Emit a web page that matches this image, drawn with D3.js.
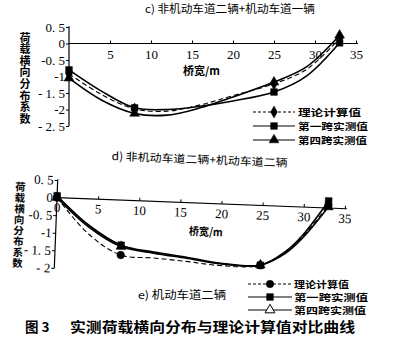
<!DOCTYPE html>
<html><head><meta charset="utf-8">
<script src="https://cdn.jsdelivr.net/npm/d3@7"></script>
<style>
html,body{margin:0;padding:0;background:#fff;}
svg{display:block;}
</style></head>
<body>
<script>
// ---------- DATA ----------
// Panel c
const cX = [0, 4, 8, 12, 16, 20, 25, 29, 33];
const cTheory = [-0.92, -1.55, -1.98, -2.05, -1.86, -1.58, -1.22, -0.78, 0.15];
const cSpan1  = [-0.80, -1.45, -1.95, -2.00, -1.90, -1.74, -1.47, -0.98, 0.02];
const cSpan4  = [-1.05, -1.72, -2.12, -2.17, -1.95, -1.62, -1.17, -0.70, 0.25];
// Panel d
const dX = [0, 4, 8, 12, 16, 20, 25, 28, 30, 33];
const dTheory = [0.00, -1.00, -1.56, -1.61, -1.67, -1.75, -1.70, -1.30, -0.84, 0.08];
const dSpan1  = [0.05, -0.75, -1.28, -1.44, -1.55, -1.68, -1.70, -1.28, -0.80, 0.20];
const dSpan4  = [0.00, -0.80, -1.32, -1.47, -1.58, -1.70, -1.69, -1.33, -0.88, 0.03];
// measured positions (where markers are drawn)
const markX = [0, 8, 25, 33];
// ticks
const cXTicks = [5, 10, 15, 20, 25, 30, 35];
const dXTicks = [0, 5, 10, 15, 20, 25, 30, 35];
const cYTicks = [0.5, 0, -0.5, -1, -1.5, -2, -2.5];
const cYLabels = ["0. 5", "0", "-0. 5", "-1", "- 1. 5", "-2", "- 2. 5"];
const dYTicks = [0.5, 0, -0.5, -1, -1.5, -2];
const dYLabels = ["0. 5", "0", "-0. 5", "-1", "- 1. 5", "- 2"];
// texts
const titleC = "c) 非机动车道二辆+机动车道一辆";
const titleD = "d) 非机动车道二辆+机动车道二辆";
const titleE = "e) 机动车道二辆";
const yTitle = "荷载横向分布系数";
const xTitle = "桥宽/m";
const legendNames = ["理论计算值", "第一跨实测值", "第四跨实测值"];
const caption = "图 3";
const captionText = "实测荷载横向分布与理论计算值对比曲线";

// ---------- DRAW ----------
const W = 400, H = 358;
const svg = d3.select("body").append("svg").attr("width", W).attr("height", H);
svg.append("rect").attr("width", W).attr("height", H).attr("fill", "#fff");

const CJK = "'Noto Sans CJK SC', sans-serif";
const NUM = "'Liberation Serif', 'DejaVu Serif', serif";

function marker(g, type, cx, cy, hollow) {
  const s = d3.symbol().size(type === d3.symbolDiamond ? 40 : type === d3.symbolTriangle ? 42 : 45).type(type);
  g.append("path").attr("d", s()).attr("transform", `translate(${cx},${cy})`)
    .attr("fill", hollow ? "#fff" : "#000").attr("stroke", "#000").attr("stroke-width", hollow ? 1 : 0.5);
}

function drawPanel(g, o) {
  const {x, y, xs, series, xTicks, yTicks, yLabels, xTickPad, yTop, yBottom} = o;
  const xa = g.append("g").attr("transform", `translate(0,${y(0)})`)
    .call(d3.axisBottom(x).tickValues(xTicks).tickSizeInner(-3).tickSizeOuter(0).tickPadding(xTickPad).tickFormat(d3.format("d")));
  xa.select(".domain").attr("stroke", "#000").attr("stroke-width", 1.2).attr("d", `M${x(0)},0H${x(35) + 2}`);
  xa.selectAll("line").attr("stroke", "#000");
  xa.selectAll("text").attr("font-family", NUM).attr("font-size", 13).attr("fill", "#000");
  const ya = g.append("g").attr("transform", `translate(${x(0)},0)`)
    .call(d3.axisLeft(y).tickValues(yTicks).tickSize(3).tickPadding(1).tickFormat((d, i) => yLabels[i]));
  ya.select(".domain").attr("stroke", "#000").attr("stroke-width", 1.2).attr("d", `M0,${y(yTop)}V${y(yBottom)}`);
  ya.selectAll("line").attr("stroke", "#000");
  ya.selectAll("text").attr("font-family", NUM).attr("font-size", 13).attr("fill", "#000");
  const line = d3.line().x((d, i) => x(xs[i])).y(d => y(d)).curve(d3.curveCatmullRom.alpha(0.5));
  series.forEach(s => {
    g.append("path").attr("d", line(s.values)).attr("fill", "none").attr("stroke", "#000")
      .attr("stroke-width", s.dash ? 1.1 : 1.6).attr("stroke-dasharray", s.dash ? "5,3" : null);
  });
  series.forEach(s => {
    xs.forEach((xv, i) => {
      if (markX.includes(xv)) marker(g, s.sym, x(xv), y(s.values[i]));
    });
  });
}

function vertText(g, text, cx, y0, size, spacing) {
  g.append("text").attr("x", cx).attr("y", y0)
    .attr("writing-mode", "vertical-rl").style("text-orientation", "upright")
    .attr("letter-spacing", spacing)
    .attr("font-family", CJK).attr("font-weight", "bold")
    .attr("font-size", size).attr("fill", "#000").text(text);
}

function legend(g, x0, x1, ys, syms, fs, textX, lens, hollowLast) {
  ys.forEach((yy, i) => {
    g.append("line").attr("x1", x0).attr("x2", x1).attr("y1", yy).attr("y2", yy)
      .attr("stroke", "#000").attr("stroke-width", i === 0 ? 1 : 1.2)
      .attr("stroke-dasharray", i === 0 ? "3,2" : null);
    marker(g, syms[i], (x0 + x1) / 2, yy, hollowLast && i === 2);
    g.append("text").attr("x", textX).attr("y", yy).attr("dominant-baseline", "central")
      .attr("font-family", CJK).attr("font-size", fs).attr("font-weight", "bold").attr("fill", "#000")
      .attr("textLength", lens[i]).attr("lengthAdjust", "spacingAndGlyphs")
      .text(legendNames[i]);
  });
}

// ----- Panel c -----
const gc = svg.append("g");
const xc = d3.scaleLinear().domain([0, 35]).range([69, 356]);
const yc = d3.scaleLinear().domain([-2.5, 0.5]).range([126, 27]);
drawPanel(gc, {
  x: xc, y: yc, xs: cX, xTicks: cXTicks, yTicks: cYTicks, yLabels: cYLabels, xTickPad: 6,
  yTop: 0.52, yBottom: -2.5,
  series: [
    {values: cTheory, dash: true, sym: d3.symbolDiamond},
    {values: cSpan1, dash: false, sym: d3.symbolSquare},
    {values: cSpan4, dash: false, sym: d3.symbolTriangle}
  ]
});
gc.append("text").attr("x", 145).attr("y", 8).attr("dominant-baseline", "central")
  .attr("font-family", CJK).attr("font-size", 11).attr("fill", "#000")
  .attr("textLength", 170).attr("lengthAdjust", "spacingAndGlyphs").text(titleC);
gc.append("text").attr("x", 183).attr("y", 70).attr("dominant-baseline", "central")
  .attr("font-family", CJK).attr("font-size", 11).attr("font-weight", "bold").attr("fill", "#000")
  .attr("textLength", 37).attr("lengthAdjust", "spacingAndGlyphs").text(xTitle);
vertText(gc, yTitle, 25, 32, 11, 0.6);
legend(gc, 253, 295, [112, 126, 140],
  [d3.symbolDiamond, d3.symbolSquare, d3.symbolTriangle], 9.5, 298, [63, 70, 69], false);

// ----- Panel d (scan is slightly rotated) -----
const gd = svg.append("g").attr("transform", "rotate(2.2,57,198)");
const xd = d3.scaleLinear().domain([0, 35]).range([57, 345]);
const yd = d3.scaleLinear().domain([-2, 0.5]).range([268, 180]);
drawPanel(gd, {
  x: xd, y: yd, xs: dX, xTicks: dXTicks, yTicks: dYTicks, yLabels: dYLabels, xTickPad: 5,
  yTop: 0.52, yBottom: -2,
  series: [
    {values: dTheory, dash: true, sym: d3.symbolCircle},
    {values: dSpan1, dash: false, sym: d3.symbolSquare},
    {values: dSpan4, dash: false, sym: d3.symbolTriangle}
  ]
});
gd.append("text").attr("x", 110).attr("y", 153).attr("dominant-baseline", "central")
  .attr("font-family", CJK).attr("font-size", 11).attr("fill", "#000")
  .attr("textLength", 176).attr("lengthAdjust", "spacingAndGlyphs").text(titleD);
gd.append("text").attr("x", 190).attr("y", 225).attr("dominant-baseline", "central")
  .attr("font-family", CJK).attr("font-size", 11).attr("font-weight", "bold").attr("fill", "#000")
  .attr("textLength", 34).attr("lengthAdjust", "spacingAndGlyphs").text(xTitle);
vertText(gd, yTitle, 20, 183, 10.5, 0.4);

// ----- Panel e label, legend, caption -----
const ge = svg.append("g");
ge.append("text").attr("x", 138).attr("y", 294).attr("dominant-baseline", "central")
  .attr("font-family", CJK).attr("font-size", 11).attr("fill", "#000")
  .attr("textLength", 88).attr("lengthAdjust", "spacingAndGlyphs").text(titleE);
legend(ge, 248, 292, [284, 297, 310],
  [d3.symbolCircle, d3.symbolSquare, d3.symbolTriangle], 9, 294, [55, 74, 72], true);
ge.append("text").attr("x", 25).attr("y", 326).attr("dominant-baseline", "central")
  .attr("font-family", CJK).attr("font-size", 13.5).attr("font-weight", "bold").attr("fill", "#000")
  .text(caption);
ge.append("text").attr("x", 70).attr("y", 326).attr("dominant-baseline", "central")
  .attr("font-family", CJK).attr("font-size", 13.5).attr("font-weight", "bold").attr("fill", "#000")
  .attr("textLength", 285).attr("lengthAdjust", "spacingAndGlyphs").text(captionText);
</script>
</body></html>
